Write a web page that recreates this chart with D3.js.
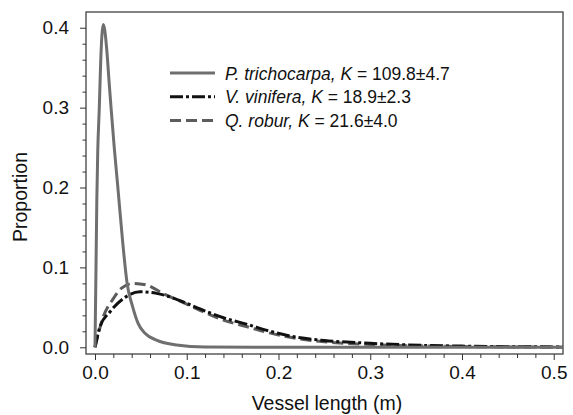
<!DOCTYPE html>
<html lang="en">
<head>
<meta charset="UTF-8" />
<title>Vessel length distribution</title>
<script src="https://cdn.jsdelivr.net/npm/d3@7"></script>
<style>
  body { margin: 0; background: #fff; }
  svg text { font-family: "Liberation Sans", Arial, sans-serif; fill: #111; }
  .tick text { font-size: 19px; }
  .axis-title { font-size: 19.5px; }
  .legend text { font-size: 17.5px; }
</style>
</head>
<body>
<div id="chart"></div>
<script>
// values: [vessel length (m), proportion]
var trichocarpa = [
  [0, 0], [0.001, 0.09], [0.002, 0.185], [0.003, 0.245], [0.0047, 0.30],
  [0.006, 0.35], [0.0075, 0.39], [0.009, 0.404], [0.0105, 0.398], [0.013, 0.37],
  [0.0155, 0.33], [0.0175, 0.30], [0.021, 0.25], [0.0247, 0.203], [0.030, 0.134],
  [0.035, 0.080], [0.041, 0.051], [0.047, 0.030], [0.0545, 0.0175], [0.067, 0.009],
  [0.089, 0.003], [0.12, 0.0005], [0.2, 0], [0.51, 0]
];
var vinifera = [
  [0, 0], [0.0055, 0.026], [0.0164, 0.0445], [0.031, 0.061], [0.049, 0.0695],
  [0.067, 0.0675], [0.082, 0.063], [0.1, 0.055], [0.1145, 0.048], [0.14, 0.037],
  [0.165, 0.029], [0.191, 0.020], [0.22, 0.0125], [0.25, 0.0085], [0.3, 0.005],
  [0.34, 0.003], [0.4, 0.0015], [0.45, 0.0008], [0.51, 0.0004]
];
var robur = [
  [0, 0], [0.009, 0.038], [0.020, 0.061], [0.029, 0.074], [0.042, 0.080],
  [0.056, 0.078], [0.074, 0.0675], [0.1, 0.054], [0.115, 0.046], [0.14, 0.034],
  [0.165, 0.026], [0.19, 0.018], [0.22, 0.011], [0.25, 0.007], [0.3, 0.0035],
  [0.35, 0.0018], [0.4, 0.0009], [0.51, 0.0002]
];

var seriesNames = ["P. trichocarpa", "V. vinifera", "Q. robur"];
var kLabels = ["109.8\u00b14.7", "18.9\u00b12.3", "21.6\u00b14.0"];
var xTicks = [0, 0.1, 0.2, 0.3, 0.4, 0.5];
var yTicks = [0, 0.1, 0.2, 0.3, 0.4];

var w = 573, h = 415;
var frame = { left: 86, right: 563, top: 12, bottom: 354 };

var svg = d3.select("#chart").append("svg")
  .attr("width", w)
  .attr("height", h);

var x = d3.scaleLinear().domain([-0.0098, 0.5101]).range([frame.left, frame.right]);
var y = d3.scaleLinear().domain([-0.0084, 0.4197]).range([frame.bottom, frame.top]);

// minor ticks every 0.02
var xMinor = d3.range(0, 0.511, 0.02).filter(function(v) { return Math.abs(v * 10 - Math.round(v * 10)) > 1e-6; });
var yMinor = d3.range(0, 0.419, 0.02).filter(function(v) { return Math.abs(v * 10 - Math.round(v * 10)) > 1e-6; });

var xAxis = svg.append("g")
  .attr("transform", "translate(0," + frame.bottom + ")")
  .call(d3.axisBottom(x).tickValues(xTicks).tickSize(6).tickPadding(6).tickFormat(d3.format(".1f")));
svg.append("g")
  .attr("transform", "translate(0," + frame.bottom + ")")
  .call(d3.axisBottom(x).tickValues(xMinor).tickSize(4).tickFormat(""));

var yAxis = svg.append("g")
  .attr("transform", "translate(" + frame.left + ",0)")
  .call(d3.axisLeft(y).tickValues(yTicks).tickSize(6).tickPadding(11).tickFormat(d3.format(".1f")));
svg.append("g")
  .attr("transform", "translate(" + frame.left + ",0)")
  .call(d3.axisLeft(y).tickValues(yMinor).tickSize(3.5).tickFormat(""));

svg.selectAll(".domain").remove();
svg.selectAll(".tick line").attr("stroke", "#333");

svg.append("rect")
  .attr("x", frame.left)
  .attr("y", frame.top)
  .attr("width", frame.right - frame.left)
  .attr("height", frame.bottom - frame.top)
  .attr("fill", "none")
  .attr("stroke", "#333")
  .attr("stroke-width", 1.2);

var line = d3.line()
  .x(function(d) { return x(d[0]); })
  .y(function(d) { return y(d[1]); })
  .curve(d3.curveMonotoneX);

var styles = [
  { color: "#6f6f6f", dash: null },
  { color: "#111111", dash: "13,3,3,3" },
  { color: "#5c5c5c", dash: "11,5" }
];
var allData = [trichocarpa, vinifera, robur];

// draw dashed ones first so the solid curve sits like the reference
[2, 1, 0].forEach(function(i) {
  svg.append("path")
    .datum(allData[i])
    .attr("d", line)
    .attr("fill", "none")
    .attr("stroke", styles[i].color)
    .attr("stroke-width", 3)
    .attr("stroke-dasharray", styles[i].dash);
});

// axis titles
svg.append("text")
  .attr("class", "axis-title")
  .attr("x", 327)
  .attr("y", 410)
  .attr("text-anchor", "middle")
  .text("Vessel length (m)");

svg.append("text")
  .attr("class", "axis-title")
  .attr("transform", "translate(27,197) rotate(-90)")
  .attr("text-anchor", "middle")
  .text("Proportion");

// legend
var legend = svg.append("g").attr("class", "legend");
seriesNames.forEach(function(name, i) {
  var ly = 73 + i * 23.8;
  legend.append("line")
    .attr("x1", 170).attr("x2", 215)
    .attr("y1", ly).attr("y2", ly)
    .attr("stroke", styles[i].color)
    .attr("stroke-width", 3)
    .attr("stroke-dasharray", styles[i].dash);
  var t = legend.append("text")
    .attr("x", 225)
    .attr("y", ly + 6.5);
  t.append("tspan").attr("font-style", "italic").text(name + ", K");
  t.append("tspan").text(" = " + kLabels[i]);
});
</script>
</body>
</html>
